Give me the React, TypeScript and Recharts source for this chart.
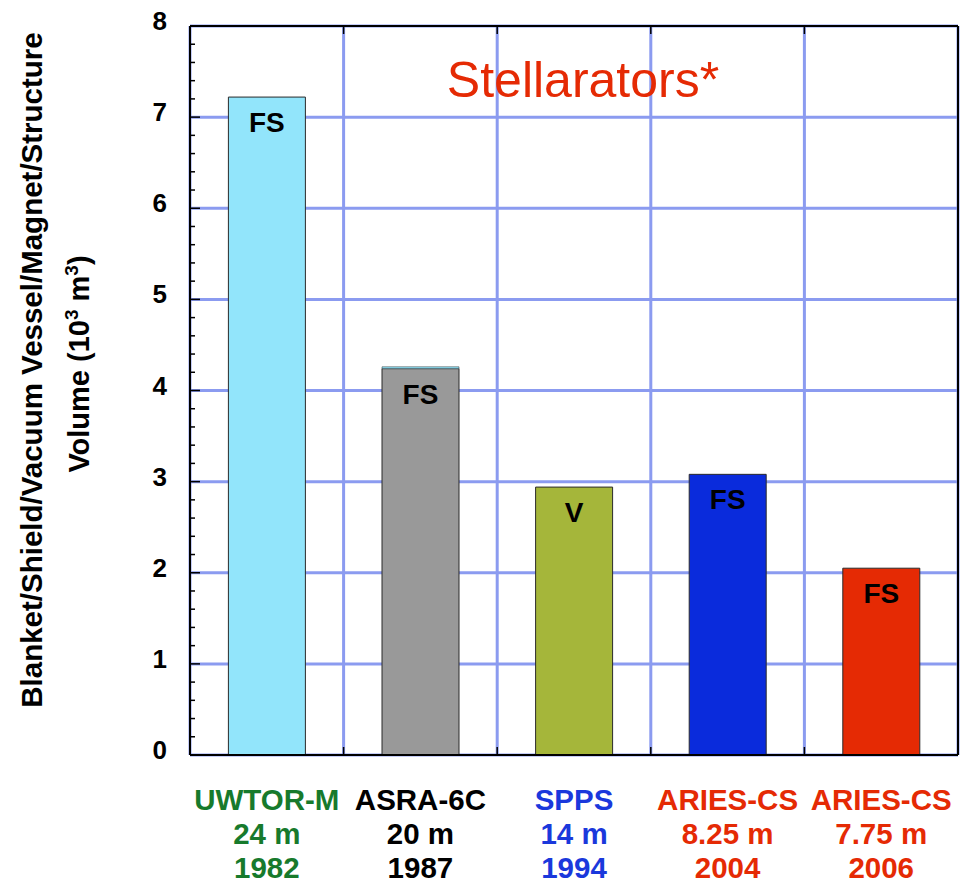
import React from "react";
import {
  BarChart,
  Bar,
  XAxis,
  YAxis,
  CartesianGrid,
  Cell,
  LabelList,
  Customized,
} from "recharts";

const categories = ["UWTOR-M", "ASRA-6C", "SPPS", "ARIES-CS", "ARIES-CS"];
const majorRadii = ["24 m", "20 m", "14 m", "8.25 m", "7.75 m"];
const years = ["1982", "1987", "1994", "2004", "2006"];
const volumes = [7.22, 4.24, 2.94, 3.08, 2.05];
const capVolumes = [0, 0.02, 0, 0, 0];
const materials = ["FS", "FS", "V", "FS", "FS"];
const yTicks = [0, 1, 2, 3, 4, 5, 6, 7, 8];
const minorTicks = Array.from({ length: 41 }, (_, i) => Math.round(i * 2) / 10);
const boundaryTicks = [0, 1, 2, 3, 4, 5];

const barColors = ["#92e5fb", "#999999", "#a5b63a", "#0a2bdc", "#e52a04"];
const labelColors = ["#177a2c", "#000000", "#1a38dc", "#e52a04", "#e52a04"];
const CAP_COLOR = "#92e5fb";
const GRID = "#8b9bf0";
const FONT = "'Liberation Sans', Arial, Helvetica, sans-serif";

const data = categories.map((c, i) => ({
  key: `${c} ${years[i]}`,
  volume: volumes[i],
  cap: capVolumes[i],
  material: materials[i],
}));

const isMajor = (v: number) => Math.abs(v - Math.round(v)) < 1e-6;

const LeftTick = (props: any) => {
  const { x, y, payload } = props;
  const v = payload.value as number;
  const axisX = x + 23;
  const major = isMajor(v);
  return (
    <g>
      <line x1={axisX} x2={axisX + (major ? 10 : 5)} y1={y} y2={y} stroke="#000" strokeWidth={1.5} />
      {major && (
        <text x={x} y={y + 4} textAnchor="end" fontFamily={FONT} fontWeight="bold" fontSize={26} fill="#000">
          {v}
        </text>
      )}
    </g>
  );
};

const RightTick = (props: any) => {
  const { x, y, payload } = props;
  const v = payload.value as number;
  const major = isMajor(v);
  return <line x1={x - (major ? 10 : 5)} x2={x} y1={y} y2={y} stroke="#000" strokeWidth={1.5} />;
};

const BottomTick = (props: any) => {
  const { x, y, payload, index } = props;
  const i = index as number;
  const off = payload.offset || 0;
  const col = labelColors[i];
  const common = { x, textAnchor: "middle" as const, fontFamily: FONT, fontWeight: "bold", fontSize: 29.5, fill: col };
  return (
    <g>
      {i < categories.length - 1 && (
        <line x1={x + off} x2={x + off} y1={y} y2={y - 8} stroke="#000" strokeWidth={1.5} />
      )}
      <text {...common} y={y + 55}>{categories[i]}</text>
      <text {...common} y={y + 89}>{majorRadii[i]}</text>
      <text {...common} y={y + 123}>{years[i]}</text>
    </g>
  );
};

const TopTick = (props: any) => {
  const { x, y, payload, index } = props;
  const off = payload.offset || 0;
  if (index >= categories.length - 1) return <g />;
  return <line x1={x + off} x2={x + off} y1={y} y2={y + 8} stroke="#000" strokeWidth={1.5} />;
};

const MaterialLabel = (props: any) => {
  const { x, y, width, value } = props;
  return (
    <text x={x + width / 2} y={y + 35} textAnchor="middle" fontFamily={FONT} fontWeight="bold" fontSize={28} fill="#000">
      {value}
    </text>
  );
};

const Titles = () => (
  <g>
    <text x={575} y={97} textAnchor="middle" fontFamily={FONT} fontSize={50} fill="#e52a04">
      Stellarators*
    </text>
    <text
      transform="translate(34,370) rotate(-90)"
      textAnchor="middle"
      fontFamily={FONT}
      fontWeight="bold"
      fontSize={29.5}
      fill="#000"
    >
      Blanket/Shield/Vacuum Vessel/Magnet/Structure
    </text>
    <text
      transform="translate(81,364) rotate(-90)"
      textAnchor="middle"
      fontFamily={FONT}
      fontWeight="bold"
      fontSize={29}
      fill="#000"
    >
      Volume (10
      <tspan fontSize={19} dy={-11}>3</tspan>
      <tspan dy={11}> m</tspan>
      <tspan fontSize={19} dy={-11}>3</tspan>
      <tspan dy={11}>)</tspan>
    </text>
  </g>
);

const verticalGen = (args: any) => {
  const { offset } = args;
  return boundaryTicks.map((k) => offset.left + (offset.width * k) / categories.length);
};

export default function App() {
  return (
    <div style={{ marginTop: -8 }}>
      <BarChart
        width={969}
        height={884}
        data={data}
        margin={{ top: 25, right: 0, bottom: 0, left: 0 }}
        barCategoryGap="25%"
      >
        <CartesianGrid
          stroke={GRID}
          strokeWidth={3}
          horizontalValues={yTicks}
          verticalCoordinatesGenerator={verticalGen}
        />
        <XAxis
          dataKey="key"
          height={129}
          interval={0}
          tickSize={0}
          tickMargin={0}
          tick={<BottomTick />}
          axisLine={{ stroke: "#000", strokeWidth: 2 }}
          tickLine={false}
        />
        <XAxis
          xAxisId="top"
          dataKey="key"
          orientation="top"
          height={1}
          interval={0}
          tickSize={0}
          tickMargin={0}
          tick={<TopTick />}
          axisLine={{ stroke: "#000", strokeWidth: 2 }}
          tickLine={false}
        />
        <YAxis
          width={182}
          domain={[0, 8]}
          ticks={minorTicks}
          interval={0}
          tickSize={0}
          tickMargin={23}
          tick={<LeftTick />}
          axisLine={{ stroke: "#000", strokeWidth: 2 }}
          tickLine={false}
        />
        <YAxis
          yAxisId="right"
          orientation="right"
          width={19}
          domain={[0, 8]}
          ticks={minorTicks}
          interval={0}
          tickSize={0}
          tickMargin={0}
          tick={<RightTick />}
          axisLine={{ stroke: "#000", strokeWidth: 2 }}
          tickLine={false}
        />
        <Bar dataKey="volume" stackId="a" stroke="#2a2a2a" strokeWidth={1} isAnimationActive={false}>
          {data.map((d, i) => (
            <Cell key={i} fill={barColors[i]} />
          ))}
          <LabelList dataKey="material" content={<MaterialLabel />} />
        </Bar>
        <Bar dataKey="cap" stackId="a" isAnimationActive={false}>
          {data.map((d, i) => (
            <Cell key={i} fill={CAP_COLOR} stroke={d.cap > 0 ? "#2a2a2a" : "none"} strokeWidth={0.5} />
          ))}
        </Bar>
        <Customized component={Titles} />
      </BarChart>
    </div>
  );
}
